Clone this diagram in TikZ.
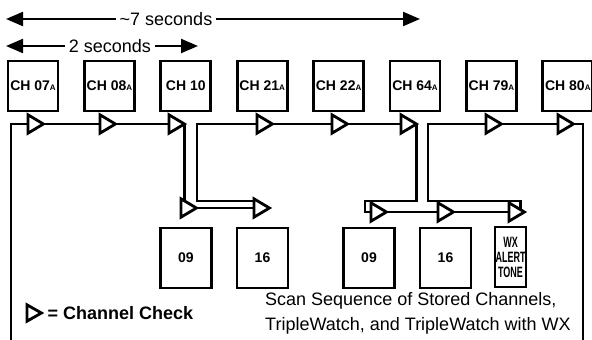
\documentclass[tikz,border=0pt]{standalone}
\usepackage{fontspec}
\setmainfont{Liberation Sans}
\usetikzlibrary{arrows.meta,backgrounds,positioning}

\newcommand{\subA}{{\fontsize{8}{8}\selectfont A}}
\newcommand{\narrowtxt}[1]{\scalebox{0.6}[1]{#1}}

\begin{document}
\begin{tikzpicture}[x=1pt, y=-1pt, line join=miter,
  chbox/.style={draw, line width=2.8pt, minimum width=50pt, minimum height=50pt, inner sep=0pt, font=\bfseries\fontsize{14}{15}\selectfont},
  subbox/.style={draw, line width=2.8pt, minimum width=51pt, minimum height=60pt, inner sep=0pt, font=\bfseries\fontsize{14}{15}\selectfont},
  chk/.style={inner sep=0pt, minimum width=15pt, minimum height=18pt, anchor=west,
    append after command={\pgfextra{\draw[line width=2.8pt, fill=white] (\tikzlastnode.north west) -- (\tikzlastnode.east) -- (\tikzlastnode.south west) -- cycle;}}},
  wire/.style={line width=2.8pt},
  span/.style={line width=2.2pt, {Triangle[length=17pt,width=14pt]}-{Triangle[length=17pt,width=14pt]}}]
	\useasboundingbox (0,0) rectangle (592,340);
	% channels in the scan
	\node[chbox] (ch07) at (33,86) {CH 07\subA};
	\node[chbox] (ch08) at (109.4,86) {CH 08\subA};
	\node[chbox] (ch10) at (185.8,86) {CH 10};
	\node[chbox] (ch21) at (262.2,86) {CH 21\subA};
	\node[chbox] (ch22) at (338.6,86) {CH 22\subA};
	\node[chbox] (ch64) at (415,86) {CH 64\subA};
	\node[chbox] (ch79) at (491.4,86) {CH 79\subA};
	\node[chbox] (ch80) at (567.8,86) {CH 80\subA};
	% weather / triplewatch boxes
	\node[subbox] (wa09) at (186,258) {09};
	\node[subbox] (wa16) at (262.5,258) {16};
	\node[subbox] (wb09) at (369,258) {09};
	\node[subbox] (wb16) at (445.5,258) {16};
	\node[subbox, minimum width=31pt, align=center, font=\bfseries\fontsize{15}{15}\selectfont] (wxt) at (510.5,257) {\narrowtxt{WX}\\ \narrowtxt{ALERT}\\ \narrowtxt{TONE}};
	% channel checks
	\node[chk] (t1) at (28,124) {};
	\node[chk] (t2) at (100,124) {};
	\node[chk] (t3) at (169,124) {};
	\node[chk] (t4) at (257,124) {};
	\node[chk] (t5) at (332,124) {};
	\node[chk] (t6) at (401,124) {};
	\node[chk] (t7) at (486,124) {};
	\node[chk] (t8) at (558,124) {};
	\node[chk] (b1) at (181,208) {};
	\node[chk] (b2) at (254,208) {};
	\node[chk] (c1) at (371,212) {};
	\node[chk] (c2) at (438,212) {};
	\node[chk] (c3) at (509,212) {};
	\coordinate (fl) at (11,341);
	\coordinate (fr) at (583,341);
	\coordinate (r1) at (197,124);
	\coordinate (n2) at (365,201);
	\coordinate (r2) at (428,201);
	\begin{scope}[on background layer]
	\draw[wire] (t8.east) -| (fr) -- (fl) |- (t1.west);
	\foreach \a/\b in {t1/t2, t2/t3, t4/t5, t5/t6, t7/t8, b1/b2, c1/c2, c2/c3} {\draw[wire] (\a.east) -- (\b.west);}
	\draw[wire] (t3.east) |- (b1.west);
	\draw[wire] ([yshift=7pt]b2.west) -| (r1) -- (t4.west);
	\draw[wire] (t6.east) |- (n2) |- (c1.west);
	\draw[wire] ([xshift=-4pt]c3.east) |- (r2) |- (t7.west);
	\end{scope}
	% timing
	\coordinate (s7l) at (6,19);
	\coordinate (s7r) at (420,19);
	\coordinate (s2l) at (6,46);
	\coordinate (s2r) at (198,46);
	\draw[span] (s7l) -- (s7r);
	\draw[span] (s2l) -- (s2r);
	\node[fill=white, inner xsep=4pt, inner ysep=1pt, font=\fontsize{18}{20}\selectfont] (sec7) at (166,19) {\textasciitilde 7 seconds};
	\node[fill=white, inner xsep=4pt, inner ysep=1pt, font=\fontsize{18}{20}\selectfont] (sec2) at (110,46) {2 seconds};
	% legend and caption
	\node[chk, minimum width=14pt, minimum height=16pt] (lgd) at (27,313) {};
	\node[right=6pt of lgd.east, inner sep=0pt, font=\bfseries\fontsize{18}{20}\selectfont] (lgdt) {= Channel Check};
	\node[anchor=west, align=left, inner sep=0pt, font=\fontsize{18}{25}\selectfont] (cap) at (265,313.5) {Scan Sequence of Stored Channels,\\TripleWatch, and TripleWatch with WX};
\end{tikzpicture}
\end{document}
